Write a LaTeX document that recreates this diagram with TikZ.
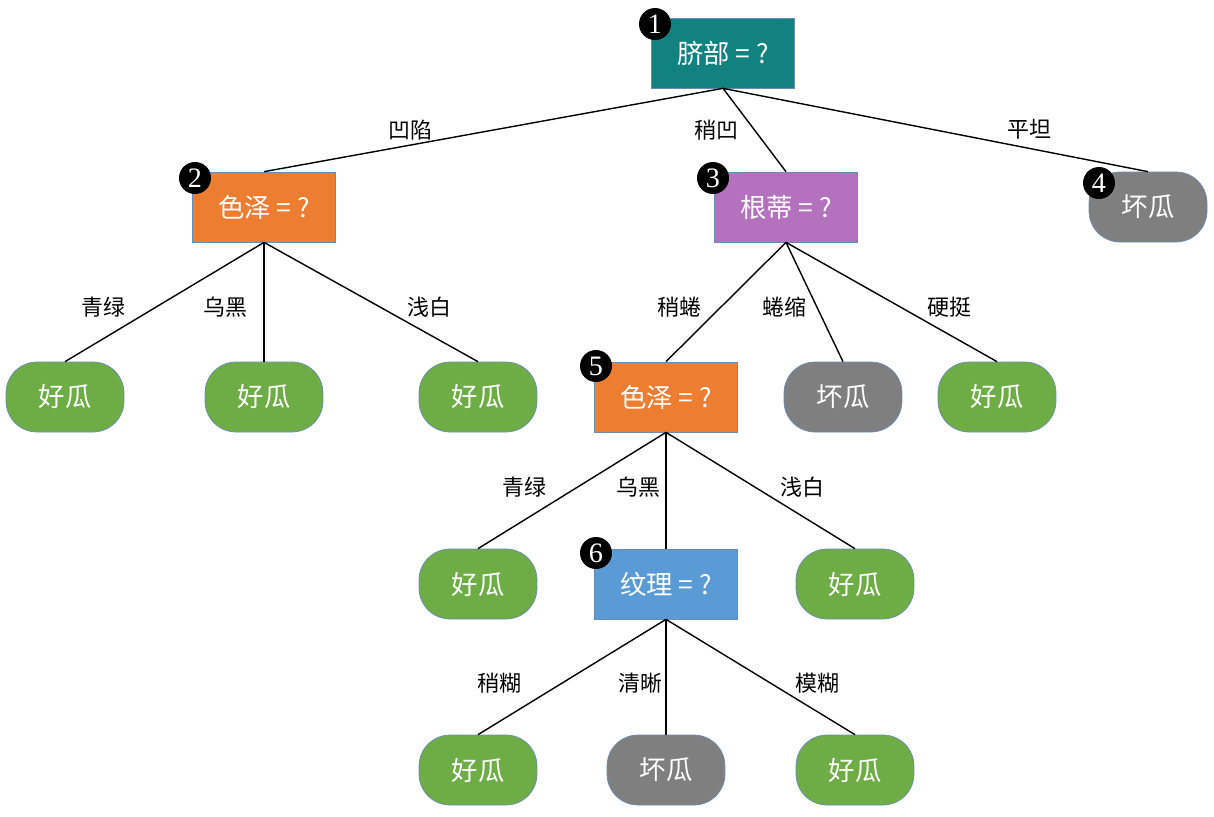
\documentclass[tikz,border=0pt]{standalone}
\usepackage{fontspec}
\setmainfont{Liberation Serif}
\newfontfamily\cjk{Noto Sans CJK SC}
\definecolor{tealbox}{HTML}{128281}
\definecolor{orangebox}{HTML}{ED7D31}
\definecolor{purplebox}{HTML}{B472BE}
\definecolor{graybox}{HTML}{7F7F7F}
\definecolor{greenbox}{HTML}{6EAC46}
\definecolor{bluebox}{HTML}{5B9BD5}
\definecolor{boxline}{HTML}{6A8DB5}

\begin{document}
\begin{tikzpicture}[x=0.02cm, y=-0.02cm,
   test_style/.style={rectangle, draw=boxline, line width=0.4pt, minimum width=2.86cm, minimum height=1.4cm,
     text=white, font=\cjk\fontsize{15}{17}\selectfont},
   leaf_style/.style={test_style, rounded corners=0.62cm, minimum width=2.36cm},
   badge_style/.style={circle, fill=black, text=white, inner sep=0pt, minimum size=0.64cm,
     font=\fontsize{16}{16}\selectfont},
   edge_style/.style={draw=black, line width=0.8pt},
   label_style/.style={font=\cjk\fontsize{12.5}{14}\selectfont}]
	  \useasboundingbox (0,0) rectangle (1214,816);

	  \node [test_style,fill=tealbox] (n1) at (723,53) {脐部 = ?};
	  \node [test_style,fill=orangebox] (n2) at (264,207) {色泽 = ?};
	  \node [test_style,fill=purplebox] (n3) at (786,207) {根蒂 = ?};
	  \node [leaf_style,fill=graybox] (n4) at (1148,207) {坏瓜};

	  \node [leaf_style,fill=greenbox] (l1) at (65,397) {好瓜};
	  \node [leaf_style,fill=greenbox] (l2) at (264,397) {好瓜};
	  \node [leaf_style,fill=greenbox] (l3) at (478,397) {好瓜};
	  \node [test_style,fill=orangebox] (n5) at (666,397) {色泽 = ?};
	  \node [leaf_style,fill=graybox] (l4) at (843,397) {坏瓜};
	  \node [leaf_style,fill=greenbox] (l5) at (997,397) {好瓜};

	  \node [leaf_style,fill=greenbox] (l6) at (478,584) {好瓜};
	  \node [test_style,fill=bluebox] (n6) at (666,584) {纹理 = ?};
	  \node [leaf_style,fill=greenbox] (l7) at (855,584) {好瓜};

	  \node [leaf_style,fill=greenbox] (l8) at (478,770) {好瓜};
	  \node [leaf_style,fill=graybox] (l9) at (666,770) {坏瓜};
	  \node [leaf_style,fill=greenbox] (l10) at (855,770) {好瓜};

	  \foreach \num/\x/\y in {1/655/24, 2/195/178, 3/713/178, 4/1099/183, 5/596/366, 6/596/553}
	    \node [badge_style] (b\num) at (\x,\y) {\num};

	  \foreach \from/\to/\lbl/\p/\dx/\dy in {n1/n2/凹陷/0.68/0/-15, n1/n3/稍凹/0.5/-38/0, n1/n4/平坦/0.72/0/-19,
	      n2/l1/青绿/0.54/-53/0, n2/l2/乌黑/0.54/-39/0, n2/l3/浅白/0.54/50/0,
	      n3/n5/稍蜷/0.54/-42/0, n3/l4/蜷缩/0.54/-32/0, n3/l5/硬挺/0.54/50/0,
	      n5/l6/青绿/0.47/-53/0, n5/n6/乌黑/0.47/-28/0, n5/l7/浅白/0.47/48/0,
	      n6/l8/稍糊/0.55/-63/0, n6/l9/清晰/0.55/-26/0, n6/l10/模糊/0.55/48/0}
	    %\draw (\from) -- (\to);
	    \draw [edge_style] (\from.south) -- node[label_style,pos=\p,shift={(\dx,\dy)}] {\lbl} (\to.north);

\end{tikzpicture}
\end{document}
